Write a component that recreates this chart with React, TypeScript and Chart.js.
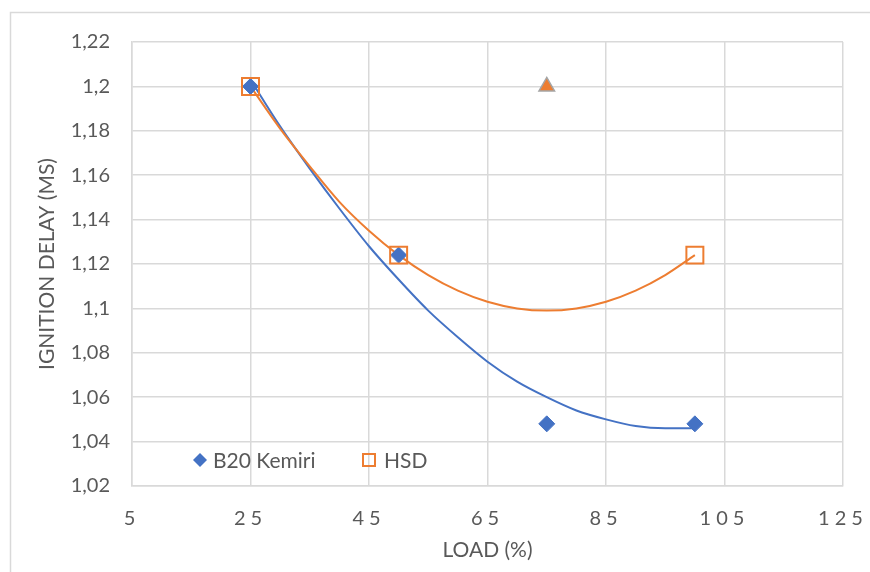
import React, { useEffect, useRef } from "react";
import { Chart, registerables } from "chart.js";

Chart.register(...registerables);

// Measured points
const loadB20 = [25, 50, 75, 100];
const delayB20 = [1.2, 1.124, 1.048, 1.048];
const loadHSD = [25, 50, 100];
const delayHSD = [1.2, 1.124, 1.124];
const loadExtra = [75];
const delayExtra = [1.2];

// Trendlines (polynomial)
const trendLoad = [25, 30, 35, 40, 45, 50, 55, 60, 65, 70, 75, 80, 85, 90, 95, 100];
const trendB20 = [1.203, 1.182, 1.163, 1.145, 1.128, 1.113, 1.099, 1.087, 1.076, 1.067, 1.06, 1.054, 1.05, 1.047, 1.046, 1.046];
const trendHSD = [1.2, 1.181, 1.164, 1.148, 1.135, 1.124, 1.115, 1.108, 1.103, 1.1, 1.099, 1.1, 1.103, 1.108, 1.115, 1.124];

const legendLabels = ["B20 Kemiri", "HSD"];
const xTitle = "LOAD (%)";
const yTitle = "IGNITION DELAY (MS)";

const BLUE = "#4472c4";
const ORANGE = "#ed7d31";
const GRAY = "#a5a5a5";
const GRID = "#d9d9d9";
const TEXT = "#595959";
const FONT = "Lato, 'Open Sans', sans-serif";

const zip = (xs: number[], ys: number[]) => xs.map((x, i) => ({ x, y: ys[i] }));

const decoPlugin = {
  id: "deco",
  beforeDraw(chart: any) {
    const ctx = chart.ctx;
    ctx.save();
    ctx.strokeStyle = GRID;
    ctx.lineWidth = 1.5;
    ctx.beginPath();
    ctx.moveTo(10.5, chart.height);
    ctx.lineTo(10.5, 12.5);
    ctx.lineTo(chart.width, 12.5);
    ctx.stroke();
    ctx.restore();
    const xs = chart.scales.x;
    if (xs && !xs.__patched) {
      const orig = xs.drawLabels.bind(xs);
      xs.drawLabels = (area: any) => {
        ctx.save();
        ctx.letterSpacing = "5px";
        orig(area);
        ctx.restore();
      };
      xs.__patched = true;
    }
  },
  afterDraw(chart: any) {
    const ctx = chart.ctx;
    const area = chart.chartArea;
    const y = area.bottom - 26;
    ctx.save();
    const dx = area.left + 68;
    ctx.fillStyle = BLUE;
    ctx.beginPath();
    ctx.moveTo(dx - 7, y);
    ctx.lineTo(dx, y - 7);
    ctx.lineTo(dx + 7, y);
    ctx.lineTo(dx, y + 7);
    ctx.closePath();
    ctx.fill();
    ctx.font = `21px ${FONT}`;
    ctx.fillStyle = TEXT;
    ctx.textBaseline = "middle";
    ctx.textAlign = "left";
    ctx.fillText(legendLabels[0], dx + 13, y + 1);
    const sx = area.left + 237;
    ctx.strokeStyle = ORANGE;
    ctx.lineWidth = 2;
    ctx.strokeRect(sx - 6, y - 6, 12, 12);
    ctx.fillText(legendLabels[1], sx + 15, y + 1);
    ctx.restore();
  },
};

export default function App() {
  const ref = useRef<HTMLCanvasElement>(null);
  useEffect(() => {
    document.body.style.margin = "0";
    const chart = new Chart(ref.current as HTMLCanvasElement, {
      type: "scatter",
      data: {
        datasets: [
          {
            label: "extra",
            data: zip(loadExtra, delayExtra),
            pointStyle: "triangle",
            pointRadius: 9,
            backgroundColor: ORANGE,
            borderColor: GRAY,
            borderWidth: 1.5,
            order: 0,
          },
          {
            label: legendLabels[1],
            data: zip(loadHSD, delayHSD),
            pointStyle: "rect",
            pointRadius: 12,
            backgroundColor: "rgba(0,0,0,0)",
            borderColor: ORANGE,
            borderWidth: 2,
            order: 1,
          },
          {
            label: legendLabels[0],
            data: zip(loadB20, delayB20),
            pointStyle: "rectRot",
            pointRadius: 8,
            backgroundColor: BLUE,
            borderColor: BLUE,
            borderWidth: 1,
            order: 2,
          },
          {
            label: "trend HSD",
            data: zip(trendLoad, trendHSD),
            showLine: true,
            pointRadius: 0,
            borderColor: ORANGE,
            borderWidth: 2,
            tension: 0.4,
            cubicInterpolationMode: "monotone",
            order: 3,
          } as any,
          {
            label: "trend B20",
            data: zip(trendLoad, trendB20),
            showLine: true,
            pointRadius: 0,
            borderColor: BLUE,
            borderWidth: 2,
            tension: 0.4,
            cubicInterpolationMode: "monotone",
            order: 4,
          } as any,
        ],
      },
      options: {
        responsive: false,
        animation: false,
        layout: { padding: { top: 42, right: 27, left: 0, bottom: 0 } },
        plugins: {
          legend: { display: false },
          tooltip: { enabled: false },
        },
        scales: {
          x: {
            type: "linear",
            min: 5,
            max: 125,
            afterFit: (s: any) => {
              s.height = 86;
              s.paddingLeft = 0;
              s.paddingRight = 0;
            },
            ticks: {
              stepSize: 20,
              color: TEXT,
              font: { family: FONT, size: 20 },
              padding: 21,
              maxRotation: 0,
            },
            grid: { color: GRID, lineWidth: 1.5, drawTicks: false },
            border: { color: GRID, width: 1.5 },
            title: {
              display: true,
              text: xTitle,
              color: TEXT,
              font: { family: FONT, size: 21 },
              padding: { top: 0, bottom: 9 },
            },
          },
          y: {
            type: "linear",
            min: 1.02,
            max: 1.22,
            afterFit: (s: any) => {
              s.width = 132;
              s.paddingTop = 0;
              s.paddingBottom = 0;
            },
            ticks: {
              stepSize: 0.02,
              color: TEXT,
              font: { family: FONT, size: 20 },
              padding: 22,
              callback: (v: any) => String(Math.round(Number(v) * 100) / 100).replace(".", ","),
            },
            grid: { color: GRID, lineWidth: 1.5, drawTicks: false },
            border: { color: GRID, width: 1.5 },
            title: {
              display: true,
              text: yTitle,
              color: TEXT,
              font: { family: FONT, size: 21 },
              padding: { top: 35, bottom: 0 },
            },
          },
        },
      },
      plugins: [decoPlugin],
    });
    return () => chart.destroy();
  }, []);
  return <canvas ref={ref} width={870} height={572} style={{ display: "block" }} />;
}
